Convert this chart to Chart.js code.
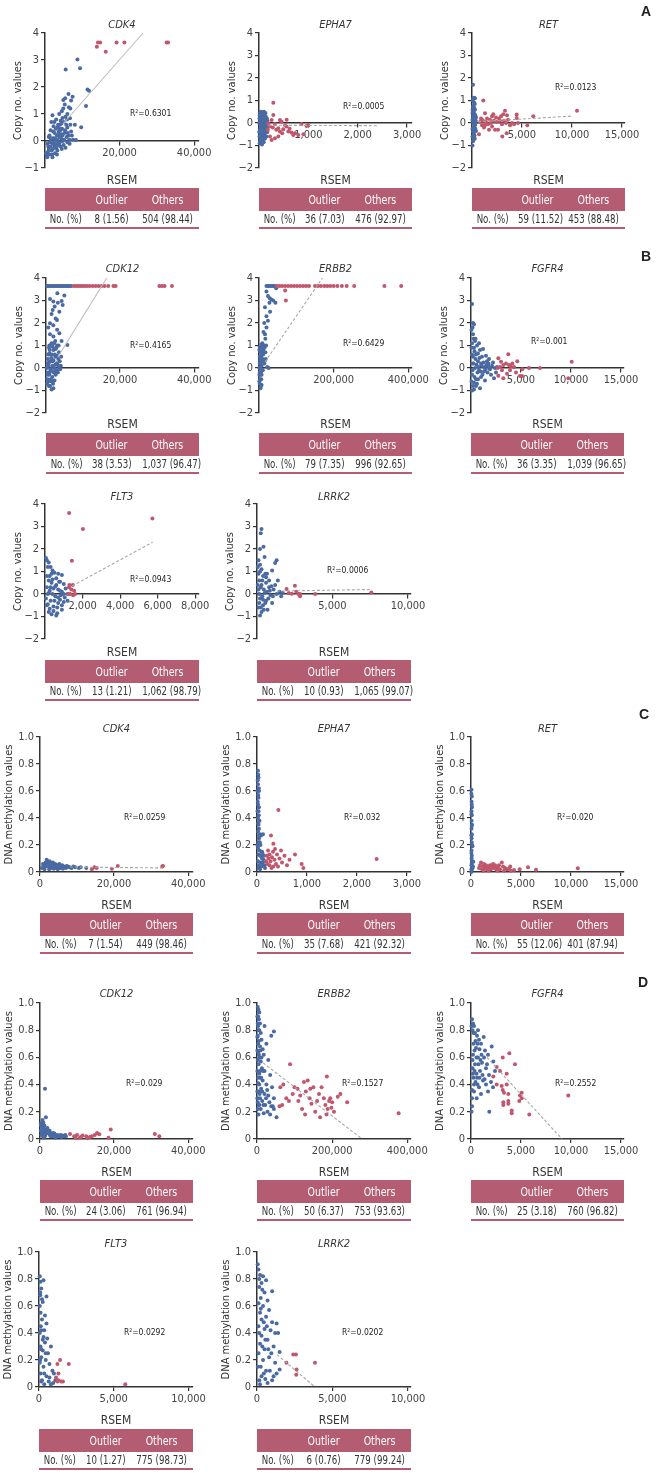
<!DOCTYPE html>
<html>
<head>
<meta charset="utf-8">
<script src="https://cdn.jsdelivr.net/npm/chart.js@4.4.1/dist/chart.umd.min.js"></script>
<style>
  body { margin: 0; background: #fff; }
  #page { position: relative; width: 665px; height: 1473px; overflow: hidden;
          font-family: "Liberation Sans Narrow", "Arial Narrow", "DejaVu Sans Condensed", "Roboto Condensed", sans-serif; color: #333; }
  canvas { position: absolute; }
  .gene { position: absolute; font-style: italic; font-size: 11px; transform: translate(-50%, -50%); white-space: nowrap; }
  .rsem { position: absolute; font-size: 12px; transform: translate(-50%, -50%); white-space: nowrap; }
  .r2 { position: absolute; font-size: 8.5px; transform: translateY(-50%); white-space: nowrap; color: #222; }
  .letter { position: absolute; font-family: "Liberation Sans", Arial, sans-serif; font-weight: bold; font-size: 14px; color: #222; }
  .tbl { position: absolute; }
  .tbl .hd, .tbl .rw { display: grid; grid-template-columns: 27% 32% 41%; align-items: center; text-align: center; white-space: nowrap; }
  .tbl .hd > span { transform: scaleX(0.84); }
  .tbl .rw > span { transform: scaleX(0.8); filter: grayscale(1); }
  .tbl .hd { background: #b35c72; color: #fff; height: 23px; font-size: 12.5px; }
  .tbl .rw { height: 16px; font-size: 12px; color: #333; border-bottom: 2px solid #b35c72; }
</style>
</head>
<body>
<div id="page"></div>
<script>
// ---- data ----
const cnTicks = [-2, -1, 0, 1, 2, 3, 4];
const cnTicksCdk4 = [-1, 0, 1, 2, 3, 4];
const meTicks = [0, 0.2, 0.4, 0.6, 0.8, 1.0];
const ticks40k = [0, 20000, 40000];
const ticks3k = [0, 1000, 2000, 3000];
const ticks15k = [0, 5000, 10000, 15000];
const ticks400k = [0, 200000, 400000];
const ticks8k = [0, 2000, 4000, 6000, 8000];
const ticks10k = [0, 5000, 10000];

// copy number, panel A
const cnCdk4Blue = [[500,-0.55],[800,-0.4],[1000,-0.3],[1200,-0.5],[1500,-0.2],[1800,-0.35],[2000,-0.1],[2200,0.1],[2500,-0.25],[2600,0.3],[2800,0.05],[3000,-0.15],[3200,0.2],[3400,0.5],[3500,-0.05],[3700,0.35],[3900,0.15],[4000,0.6],[4200,-0.2],[4400,0.25],[4600,0.45],[4800,0.0],[5000,0.7],[5200,0.3],[5500,0.9],[5800,0.15],[6000,0.5],[6300,0.2],[6600,-0.1],[7000,0.35],[7500,0.05],[8000,0.6],[3000,0.8],[3800,1.0],[4500,1.1],[4900,1.2],[5300,1.35],[6000,1.0],[6400,1.25],[4200,0.75],[2300,0.55],[1500,0.4],[1000,0.15],[700,-0.1],[2700,-0.45],[3300,-0.35],[4500,-0.3],[5500,-0.25],[1700,0.7],[2000,0.95],[5400,1.58],[6300,1.74],[7400,1.64],[4900,1.52],[6700,0.84],[9700,0.51],[8300,0.04],[11000,1.3],[11400,1.91],[11800,1.86],[5550,2.65],[8700,3.02],[9400,2.69],[7000,1.5],[6800,1.2],
  [300,-0.45],[600,-0.6],[900,-0.2],[1300,-0.05],[1600,0.05],[1900,-0.5],[2100,-0.3],[2400,-0.05],[2700,0.1],[2900,0.45],[3100,-0.25],[3300,0.05],[3600,0.25],[3800,-0.15],[4100,0.4],[4300,0.1],[4700,0.2],[5100,0.05],[5400,0.4],[5700,0.6],[6100,0.3],[6500,0.05],[3500,0.6],[2500,0.7],[4700,0.85],[3200,-0.5],[2000,-0.6],[1200,0.2],[2600,-0.15],[4000,-0.05],[5000,-0.15],[6000,-0.05],[3900,0.45],[4400,0.65],[2200,0.35],[1700,0.1],[5900,0.8],[7200,0.2],[6800,0.6]];
const cnCdk4Red = [[13900,3.49],[14200,3.65],[14800,3.65],[16300,3.31],[19200,3.65],[21300,3.65],[32600,3.65],[33000,3.65]];
const cnCdk4Trend = [[4800,0.63],[26300,4.0]];

const cnEpha7Blue = [[20,0.45],[40,0.5],[60,0.3],[80,0.42],[100,0.35],[120,0.2],[140,0.1],[30,0.1],[50,-0.1],[70,0.0],[90,-0.2],[110,-0.3],[130,-0.15],[150,-0.05],[20,-0.3],[40,-0.5],[60,-0.6],[80,-0.55],[100,-0.65],[120,-0.7],[20,-0.8],[40,-0.9],[60,-0.95],[10,-0.6],[10,0.2],[160,0.2],[170,-0.4],[30,-0.65],[90,0.15],[130,0.45],[50,0.25],[110,-0.5],[75,-0.8],[15,-0.9],[150,-0.6],[5,0.0],[5,-0.4],
  [25,0.0],[45,0.15],[65,-0.3],[85,0.05],[105,-0.1],[125,0.0],[145,-0.35],[35,-0.2],[55,-0.45],[95,-0.85],[115,-0.15],[135,0.3],[15,0.35],[70,0.25],[100,0.5],[160,-0.2],[170,0.1],[50,-0.75],[85,-0.4],[120,-0.45]];
const cnEpha7Red = [[290,0.9],[290,0.36],[256,0.13],[424,0.13],[189,-0.01],[222,-0.16],[323,-0.04],[391,-0.23],[458,0.06],[492,-0.28],[559,-0.16],[593,-0.38],[660,-0.42],[694,-0.53],[795,-0.53],[862,-0.04],[963,-0.13],[323,-0.68],[256,-0.75],[222,-0.6],[424,-0.38],[391,-0.6],[530,-0.1],[620,-0.25],[730,-0.45],[470,-0.45],[350,-0.3],[180,-0.3],[280,-0.2],[900,-0.5],[1000,-0.1],[560,0.15]];
const cnEpha7Trend = [[200,-0.1],[2400,-0.12]];

const cnRetBlue = [[100,1.7],[300,1.1],[200,1.12],[100,0.75],[200,0.7],[300,0.6],[150,0.5],[250,0.4],[100,0.3],[300,0.2],[200,0.1],[100,0.0],[300,-0.1],[150,-0.2],[250,-0.3],[100,-0.4],[200,-0.5],[50,-0.6],[150,-0.65],[250,-0.55],[50,-1.0],[400,-0.35],[400,0.25],[350,0.0],[50,0.45],[50,0.15],[50,-0.25],[120,-0.8],[220,0.9],[80,1.0],
  [120,1.1],[180,0.55],[280,0.85],[130,0.2],[230,-0.05],[330,0.35],[180,-0.35],[280,-0.7],[80,-0.8],[330,-0.25],[380,0.1],[130,-0.6],[60,0.6],[230,0.25]];
const cnRetRed = [[1130,1.0],[1300,0.43],[2130,0.39],[3130,0.39],[3300,0.55],[4470,0.38],[4470,0.22],[5530,-0.1],[6130,0.3],[10500,0.55],[3030,-0.6],[3470,-0.45],[800,0.05],[900,0.2],[1000,-0.1],[1100,0.1],[1200,-0.2],[1400,0.05],[1500,0.2],[1600,-0.05],[1700,-0.3],[1800,0.15],[1900,0.0],[2000,-0.15],[2200,0.1],[2300,-0.3],[2400,0.25],[2500,0.05],[2600,-0.3],[2700,0.2],[2800,0.1],[2900,0.3],[3000,-0.05],[3200,0.1],[3400,0.0],[3600,0.15],[3800,-0.1],[4000,0.0],[4200,-0.05],[700,-0.5],[1000,0.15],[1300,-0.1],[2000,0.3],[3500,0.35],[4600,0.0]];
const cnRetTrend = [[600,0.06],[10100,0.31]];

// copy number, panel B
const cnCdk12Blue = [[300,3.64],[700,3.64],[1100,3.64],[1500,3.64],[1900,3.64],[2300,3.64],[2700,3.64],[3100,3.64],[3500,3.64],[3900,3.64],[4300,3.64],[4700,3.64],[5100,3.64],[5500,3.64],[5900,3.64],[6300,3.64],[6800,3.64],[3060,3.32],[4950,3.22],[1080,3.07],[1980,2.96],[4230,2.98],[2340,2.73],[4500,2.8],[1800,2.58],[3600,2.5],[2970,2.13],[1080,1.99],[1980,1.9],[1080,1.5],[3600,1.55],[5770,1.02],[2500,1.2],[3000,1.0],[1500,1.1],[800,0.9],[2000,0.8],[3500,0.7],[1200,0.6],[2500,0.5],[500,0.4],[1800,0.3],[3000,0.2],[700,0.1],[2200,0.0],[3800,-0.05],[1000,-0.2],[2600,-0.3],[400,-0.5],[1500,-0.6],[800,-0.8],[2000,-0.9],[300,-0.7],[1200,0.3],[2800,0.9],[3300,0.4],[1700,-0.4],[600,-0.2],[2400,0.6],[4000,0.1],[900,0.65],[1400,-0.1],[2000,1.4],[2600,2.2],[1500,2.4],[3200,2.9],[600,1.8],[3000,1.7],[4200,1.2],
  [200,0.0],[500,0.2],[900,-0.3],[1300,-0.5],[1700,0.1],[2100,-0.2],[2500,0.15],[2900,-0.1],[3300,0.1],[3700,0.3],[4100,0.5],[700,-0.6],[1100,-0.8],[1500,-0.95],[1900,-0.7],[2300,-0.55],[600,0.6],[1000,0.8],[1400,0.45],[1800,0.95],[2200,1.1],[2600,0.85],[3000,0.55],[3400,1.0],[800,0.25],[1200,-0.05],[1600,0.6],[2000,0.35],[2400,-0.15],[2800,0.2],[3200,-0.2],[3600,0.0],[400,-0.3],[900,1.0]];
const cnCdk12Red = [[7500,3.64],[8100,3.64],[8700,3.64],[9300,3.64],[9900,3.64],[10500,3.64],[11100,3.64],[11800,3.64],[12600,3.64],[13400,3.64],[14200,3.64],[15000,3.64],[15800,3.64],[16800,3.64],[18200,3.64],[18800,3.64],[30600,3.64],[31300,3.64],[32000,3.64],[34000,3.64]];
const cnCdk12Trend = [[3200,0.49],[16400,4.0]];

const cnErbb2Blue = [[20000,3.64],[24000,3.64],[28000,3.64],[32000,3.64],[36000,3.64],[40000,3.64],[44000,3.64],[46000,3.55],[20000,3.4],[24000,3.2],[29000,3.1],[33000,3.05],[38000,3.0],[44000,2.9],[16000,2.7],[29700,2.5],[24000,2.1],[14000,2.0],[20000,1.8],[12000,1.6],[17000,1.3],[9000,1.1],[15000,0.9],[5000,0.8],[11000,0.6],[2000,0.5],[8000,0.3],[14000,0.2],[3000,0.0],[10000,-0.1],[1000,-0.3],[6000,-0.5],[2000,-0.7],[4000,-0.9],[12000,0.95],[7000,0.1],[18000,0.4],[22000,0.05],[26000,0.0],[5000,-0.2],[9000,0.7],[3000,0.35],[13000,1.0],[1000,-0.6],[7000,-0.75],[16000,1.5],[20000,2.3],[28000,2.9],
  [2000,0.9],[4000,0.7],[6000,0.55],[8000,0.9],[10000,0.4],[12000,0.3],[3000,0.2],[5000,0.1],[7000,-0.3],[9000,-0.1],[1000,0.0],[2000,-0.2],[3000,-0.5],[4000,-0.3],[5000,-0.8],[1000,0.8],[6000,1.05],[11000,0.8],[15000,0.3],[17000,0.7],[19000,1.0],[4000,0.45],[8000,0.6],[2000,0.2]];
const cnErbb2Red = [[48000,3.64],[55000,3.64],[62000,3.64],[70000,3.64],[78000,3.64],[86000,3.64],[94000,3.64],[102000,3.64],[110000,3.64],[118000,3.64],[126000,3.64],[134000,3.64],[150000,3.64],[158000,3.64],[166000,3.64],[175000,3.64],[183000,3.64],[191000,3.64],[200000,3.64],[210000,3.64],[222000,3.64],[235000,3.64],[255000,3.64],[336000,3.64],[381000,3.64],[70000,3.45],[72000,3.0]];
const cnErbb2Trend = [[16000,0.27],[170000,4.0]];

const cnFgfr4Blue = [[100,2.85],[200,2.0],[300,1.95],[150,1.8],[50,1.7],[250,1.3],[400,1.2],[100,1.1],[600,1.0],[1200,0.85],[900,0.8],[1500,0.55],[1800,0.4],[2200,0.25],[1700,0.1],[2600,0.05],[300,0.9],[500,0.6],[700,0.3],[200,0.5],[1000,0.2],[400,0.0],[800,-0.1],[1300,-0.15],[100,-0.3],[500,-0.5],[200,-0.8],[100,-1.0],[300,-0.95],[600,-0.7],[1000,-0.4],[1400,-0.55],[2000,-0.3],[2300,-0.45],[150,0.2],[700,0.65],[1100,0.5],[1900,-0.05],[50,-0.6],[900,-0.9],[1600,0.3],[2500,-0.2],
  [50,0.9],[150,-0.1],[250,0.2],[350,-0.4],[450,0.4],[550,0.15],[650,-0.2],[750,0.05],[850,0.45],[950,-0.15],[1050,0.1],[1150,-0.3],[1250,0.25],[1350,0.05],[1450,-0.05],[1550,0.15],[1650,-0.2],[1750,0.2],[1850,0.0],[2100,0.1],[2400,0.0],[300,-0.65],[500,-0.8],[700,-0.5],[200,1.5],[350,0.75],[100,0.6],[450,1.3],[800,1.1]];
const cnFgfr4Red = [[2730,0.43],[3000,0.28],[3730,0.61],[3230,0.13],[3800,0.13],[3970,0.08],[4130,0.2],[4630,0.3],[5130,-0.05],[5800,0.0],[6900,0.0],[10070,0.28],[2730,-0.34],[3230,-0.45],[3900,-0.1],[4900,-0.35],[9730,-0.45],[2900,0.05],[3500,0.2],[4300,0.05],[4500,-0.2],[3100,-0.1],[2650,0.0],[3600,-0.25],[5100,-0.35]];

const cnFlt3Blue = [[50,1.6],[100,1.5],[200,1.4],[150,1.2],[300,1.2],[400,1.05],[500,0.95],[700,0.9],[900,0.85],[250,0.8],[600,0.7],[800,0.55],[1000,0.45],[350,0.5],[100,0.3],[450,0.25],[700,0.2],[900,0.1],[1100,0.25],[1200,0.0],[150,0.0],[550,-0.1],[800,-0.25],[1000,-0.35],[300,-0.3],[100,-0.5],[450,-0.55],[650,-0.6],[900,-0.7],[200,-0.8],[350,-0.9],[600,-0.95],[1200,-0.3],[50,-0.2],[250,0.15],[700,-0.4],[400,0.65],
  [100,0.8],[200,0.6],[300,0.3],[400,0.0],[500,-0.3],[600,0.4],[700,-0.15],[800,0.15],[900,-0.5],[1000,0.0],[150,-0.45],[250,-0.65],[350,0.9],[450,-0.75],[550,0.35],[650,-0.85],[750,0.55],[850,-0.05],[1050,-0.15],[200,0.05]];
const cnFlt3Red = [[1286,3.6],[2020,2.89],[5720,3.36],[1430,1.48],[1300,0.4],[1480,0.4],[1340,0.0],[1600,0.0],[1250,0.0],[1400,0.2],[1550,0.15],[1500,-0.05],[1280,0.3]];
const cnFlt3Trend = [[1450,0.36],[5730,2.3]];

const cnLrrk2Blue = [[300,2.89],[250,2.7],[430,2.1],[200,2.0],[500,1.65],[100,1.5],[1200,1.38],[1300,1.5],[1000,1.05],[660,0.9],[1380,0.6],[50,1.2],[200,1.0],[400,0.8],[150,0.6],[600,0.5],[300,0.4],[800,0.3],[1100,0.2],[1500,0.1],[100,0.2],[500,0.05],[900,-0.05],[1300,0.0],[1700,0.05],[200,-0.2],[600,-0.3],[400,-0.5],[100,-0.6],[300,-0.8],[200,-0.95],[700,-0.7],[1000,-0.4],[800,0.6],[50,0.4],[1200,0.4],[1600,-0.1],
  [150,0.0],[250,0.3],[350,-0.1],[450,0.2],[550,-0.4],[650,0.1],[750,-0.2],[850,0.15],[950,0.35],[1050,-0.1],[150,-0.4],[250,-0.6],[350,0.6],[450,-0.7],[550,0.9],[100,0.9],[200,1.3],[300,1.1],[400,-0.25],[600,0.75]];
const cnLrrk2Red = [[1960,0.22],[2510,0.37],[2300,0.01],[2740,0.0],[2850,-0.1],[2850,0.0],[3850,0.0],[7570,0.07],[2100,0.05],[2600,0.1]];
const cnLrrk2Trend = [[1320,0.13],[7600,0.2]];

// DNA methylation, panel C
const meCdk4Blue = [[500,0.03],[1000,0.05],[1500,0.07],[1800,0.09],[2000,0.04],[2300,0.06],[2600,0.08],[2900,0.03],[3200,0.05],[3500,0.07],[3800,0.04],[4100,0.06],[4400,0.03],[4700,0.05],[5000,0.045],[5500,0.03],[6000,0.05],[6500,0.04],[7000,0.03],[7500,0.04],[8000,0.035],[8500,0.03],[9500,0.035],[10500,0.03],[12500,0.03],[1200,0.02],[2500,0.02],[3700,0.025],[4800,0.02],[6200,0.025],[1600,0.06],[2800,0.065],[3000,0.055],[5200,0.06],
  [800,0.06],[1300,0.04],[1700,0.05],[2200,0.07],[2700,0.05],[3300,0.06],[3900,0.05],[4500,0.04],[5800,0.04],[7200,0.045],[9000,0.04],[11000,0.035]];
const meCdk4Red = [[14000,0.02],[14700,0.035],[15300,0.03],[19400,0.025],[21000,0.045],[33000,0.04],[33200,0.045]];
const meCdk4Trend = [[8100,0.037],[33200,0.03]];

const meEpha7Blue = [[20,0.75],[30,0.7],[20,0.65],[40,0.6],[30,0.55],[20,0.5],[40,0.48],[30,0.45],[20,0.4],[50,0.38],[30,0.35],[40,0.32],[20,0.3],[60,0.28],[80,0.27],[120,0.28],[40,0.25],[30,0.22],[70,0.2],[20,0.18],[50,0.16],[90,0.15],[30,0.13],[60,0.12],[100,0.1],[130,0.09],[20,0.08],[70,0.07],[110,0.06],[40,0.05],[90,0.04],[150,0.05],[30,0.03],[60,0.02],[100,0.15],[140,0.12],[10,0.6],[10,0.45],[10,0.2],
  [25,0.72],[15,0.68],[35,0.62],[25,0.57],[15,0.52],[35,0.42],[25,0.36],[45,0.27],[55,0.22],[80,0.12],[110,0.14],[140,0.08],[160,0.03]];
const meEpha7Red = [[427,0.46],[280,0.27],[327,0.21],[760,0.13],[893,0.06],[927,0.03],[2393,0.096],[327,0.04],[200,0.12],[230,0.1],[250,0.13],[270,0.08],[300,0.11],[350,0.09],[400,0.13],[450,0.1],[500,0.07],[600,0.05],[250,0.05],[180,0.08],[380,0.06],[320,0.15],[220,0.16],[420,0.04],[550,0.12],[290,0.03],[210,0.06],[480,0.16],[360,0.17],[650,0.09]];

const meRetBlue = [[50,0.61],[80,0.56],[60,0.52],[100,0.48],[50,0.45],[80,0.42],[60,0.38],[100,0.35],[50,0.32],[80,0.28],[60,0.25],[100,0.2],[150,0.19],[50,0.16],[80,0.12],[60,0.1],[100,0.08],[230,0.076],[50,0.05],[150,0.03],[100,0.02],[200,0.04],[30,0.0],
  [40,0.58],[70,0.5],[40,0.43],[70,0.34],[40,0.27],[70,0.22],[40,0.14],[70,0.06],[120,0.04],[40,0.02]];
const meRetRed = [[800,0.03],[900,0.05],[1000,0.07],[1100,0.02],[1200,0.04],[1300,0.06],[1400,0.03],[1500,0.05],[1600,0.02],[1700,0.04],[1800,0.03],[1900,0.05],[2000,0.02],[2100,0.04],[2200,0.06],[2300,0.03],[2400,0.05],[2500,0.02],[2600,0.04],[2700,0.03],[2800,0.05],[2900,0.02],[3080,0.07],[3200,0.04],[3400,0.03],[3600,0.02],[3920,0.04],[4000,0.01],[4860,0.02],[5700,0.035],[6500,0.016],[10680,0.027],[1250,0.01],[1750,0.01],[2650,0.01],[3300,0.01],[3800,0.025],[4300,0.015]];

// DNA methylation, panel D
const meCdk12Blue = [[1350,0.37],[1600,0.16],[300,0.1],[600,0.08],[900,0.12],[1200,0.1],[1500,0.07],[1800,0.06],[2100,0.05],[2400,0.04],[2700,0.03],[3000,0.04],[3300,0.02],[3700,0.03],[4100,0.02],[4500,0.025],[5000,0.02],[5500,0.03],[6000,0.025],[6500,0.02],[7000,0.02],[500,0.04],[800,0.02],[1100,0.05],[1400,0.03],[2000,0.08],[2600,0.06],[3500,0.045],[200,0.06],[700,0.14],[1000,0.01],[4200,0.01],
  [400,0.03],[900,0.06],[1300,0.02],[1700,0.04],[2300,0.06],[2900,0.02],[3900,0.04],[4700,0.03],[5800,0.015],[6800,0.03],[200,0.11],[500,0.12],[1000,0.09]];
const meCdk12Red = [[8100,0.037],[9200,0.02],[10000,0.03],[10800,0.01],[11500,0.025],[12500,0.02],[13500,0.015],[14800,0.03],[15400,0.045],[16000,0.035],[18500,0.01],[19100,0.07],[31000,0.036],[32200,0.02],[9600,0.01],[11000,0.015],[12800,0.005],[14000,0.02]];

const meErbb2Blue = [[2000,0.97],[4000,0.95],[6000,0.93],[3000,0.9],[5000,0.88],[8000,0.85],[3000,0.83],[20000,0.83],[45000,0.79],[38000,0.76],[6000,0.8],[10000,0.78],[2000,0.76],[12000,0.73],[5000,0.72],[25000,0.7],[8000,0.68],[15000,0.66],[3000,0.64],[18000,0.62],[30000,0.58],[7000,0.6],[10000,0.57],[4000,0.55],[13000,0.52],[20000,0.5],[6000,0.48],[35000,0.47],[9000,0.45],[15000,0.43],[3000,0.41],[25000,0.4],[40000,0.38],[11000,0.37],[5000,0.35],[20000,0.33],[30000,0.32],[8000,0.3],[45000,0.3],[14000,0.28],[2000,0.27],[22000,0.25],[38000,0.24],[10000,0.22],[28000,0.2],[35000,0.18],[18000,0.19],[52000,0.16],[45000,0.22],[6000,0.25],[1000,0.5],[1000,0.65],[1000,0.35],[12000,0.6],
  [1000,0.9],[2000,0.85],[4000,0.8],[1000,0.75],[3000,0.7],[5000,0.62],[2000,0.58],[6000,0.4],[1000,0.3],[2000,0.22],[4000,0.18],[8000,0.5],[9000,0.65],[11000,0.45],[14000,0.35],[16000,0.5],[17000,0.25],[24000,0.3],[27000,0.36],[33000,0.27],[42000,0.24],[3000,0.45],[5000,0.25],[7000,0.33]];
const meErbb2Red = [[88000,0.55],[377000,0.19],[186000,0.46],[62000,0.38],[70000,0.4],[78000,0.3],[85000,0.28],[100000,0.38],[110000,0.28],[115000,0.32],[120000,0.22],[125000,0.42],[128000,0.18],[135000,0.43],[140000,0.3],[145000,0.26],[150000,0.38],[155000,0.2],[160000,0.28],[168000,0.16],[172000,0.38],[178000,0.3],[182000,0.25],[188000,0.22],[192000,0.28],[195000,0.3],[200000,0.27],[205000,0.2],[215000,0.31],[222000,0.33],[240000,0.27],[95000,0.33],[108000,0.37],[130000,0.35],[165000,0.33],[198000,0.23],[185000,0.18],[60000,0.24],[67000,0.25],[142000,0.37]];
const meErbb2Trend = [[16000,0.56],[280000,0.0]];

const meFgfr4Blue = [[100,0.88],[200,0.85],[300,0.83],[150,0.8],[400,0.78],[600,0.76],[1270,0.75],[800,0.73],[250,0.7],[1000,0.7],[2070,0.68],[500,0.67],[1400,0.65],[200,0.62],[700,0.6],[1700,0.62],[2230,0.57],[1100,0.56],[400,0.55],[1500,0.52],[900,0.5],[200,0.48],[1800,0.47],[600,0.45],[1200,0.43],[300,0.4],[2000,0.42],[800,0.38],[100,0.36],[570,0.3],[1830,0.2],[1000,0.33],[100,0.24],[50,0.2],[1600,0.55],[2400,0.5],[700,0.8],[1300,0.6],[150,0.58],[2200,0.38],[1700,0.35],
  [50,0.83],[250,0.78],[450,0.72],[650,0.7],[850,0.66],[1050,0.62],[350,0.65],[550,0.6],[750,0.55],[950,0.58],[150,0.52],[350,0.5],[550,0.48],[1150,0.47],[1350,0.44],[450,0.42],[650,0.4],[850,0.45],[250,0.45],[1500,0.4],[100,0.3],[300,0.35]];
const meFgfr4Red = [[3170,0.6],[3830,0.63],[4400,0.55],[2570,0.53],[2900,0.5],[3570,0.48],[2570,0.4],[3070,0.39],[3570,0.4],[3170,0.36],[3300,0.34],[3730,0.33],[3230,0.27],[3730,0.26],[4070,0.21],[4070,0.19],[4900,0.32],[5070,0.34],[4830,0.28],[5070,0.3],[5830,0.18],[9730,0.32],[3230,0.25],[2230,0.46],[3730,0.28]];
const meFgfr4Trend = [[1600,0.6],[9100,0.0]];

const meFlt3Blue = [[50,0.82],[100,0.78],[300,0.79],[150,0.73],[80,0.68],[500,0.67],[250,0.63],[50,0.6],[100,0.55],[400,0.53],[200,0.5],[500,0.47],[150,0.42],[50,0.4],[300,0.37],[550,0.36],[400,0.33],[800,0.3],[100,0.3],[250,0.27],[600,0.25],[150,0.22],[450,0.2],[50,0.18],[700,0.17],[300,0.15],[900,0.12],[100,0.1],[500,0.08],[200,0.05],[650,0.04],[950,0.03],[350,0.02],[1000,0.1],[1100,0.05],
  [80,0.7],[200,0.65],[120,0.45],[350,0.42],[250,0.35],[150,0.28],[450,0.25],[80,0.2],[350,0.1],[700,0.07],[150,0.04],[800,0.02]];
const meFlt3Red = [[1410,0.2],[1990,0.17],[1230,0.17],[1300,0.1],[1300,0.05],[1490,0.04],[1600,0.04],[1230,0.04],[5770,0.02],[1140,0.07]];

const meLrrk2Blue = [[50,0.91],[100,0.87],[200,0.83],[400,0.82],[600,0.79],[300,0.77],[1000,0.71],[150,0.74],[500,0.7],[250,0.66],[700,0.64],[100,0.62],[400,0.6],[800,0.57],[200,0.55],[600,0.52],[300,0.5],[1000,0.48],[1300,0.47],[100,0.45],[500,0.43],[900,0.42],[1200,0.4],[1400,0.4],[300,0.38],[700,0.35],[200,0.32],[1100,0.3],[500,0.28],[1500,0.26],[100,0.25],[800,0.22],[400,0.2],[1200,0.18],[1500,0.13],[600,0.12],[300,0.08],[1000,0.05],[200,0.02],[700,0.03],[1300,0.1],[50,0.15],
  [150,0.8],[350,0.72],[250,0.58],[450,0.48],[650,0.45],[150,0.4],[350,0.3],[550,0.35],[750,0.28],[950,0.25],[250,0.15],[450,0.1],[850,0.12],[1100,0.08],[550,0.06],[150,0.05]];
const meLrrk2Red = [[2400,0.24],[2580,0.24],[1950,0.18],[3840,0.18],[2620,0.13],[2600,0.09]];
const meLrrk2Trend = [[1320,0.24],[3840,0.0]];

// outlier table counts: [outlier, others]
const countsA = [['8 (1.56)', '504 (98.44)'], ['36 (7.03)', '476 (92.97)'], ['59 (11.52)', '453 (88.48)']];
const countsB = [['38 (3.53)', '1,037 (96.47)'], ['79 (7.35)', '996 (92.65)'], ['36 (3.35)', '1,039 (96.65)']];
const countsB2 = [['13 (1.21)', '1,062 (98.79)'], ['10 (0.93)', '1,065 (99.07)']];
const countsC = [['7 (1.54)', '449 (98.46)'], ['35 (7.68)', '421 (92.32)'], ['55 (12.06)', '401 (87.94)']];
const countsD = [['24 (3.06)', '761 (96.94)'], ['50 (6.37)', '753 (93.63)'], ['25 (3.18)', '760 (96.82)']];
const countsD2 = [['10 (1.27)', '775 (98.73)'], ['6 (0.76)', '779 (99.24)']];

const r2A = ['0.6301', '0.0005', '0.0123'];
const r2B = ['0.4165', '0.6429', '0.001'];
const r2B2 = ['0.0943', '0.0006'];
const r2C = ['0.0259', '0.032', '0.020'];
const r2D = ['0.029', '0.1527', '0.2552'];
const r2D2 = ['0.0292', '0.0202'];

// ---- styles / layout ----
const BLUE = '#4a6aa3';
const RED = '#c1566c';
const FONT = '"Liberation Sans Narrow", "Arial Narrow", "DejaVu Sans Condensed", "Roboto Condensed", sans-serif';
Chart.defaults.font.family = FONT;
Chart.defaults.color = '#444';

// rows: chart top / bottom, gene title y, RSEM y, table top
const rows = {
  A:  { y0: 33,   y1: 168,  title: 24,   rsem: 180,  tbl: 188 },
  B:  { y0: 278,  y1: 413,  title: 268,  rsem: 424,  tbl: 433 },
  B2: { y0: 504,  y1: 639,  title: 496,  rsem: 652,  tbl: 660 },
  C:  { y0: 737,  y1: 872,  title: 728,  rsem: 905,  tbl: 913 },
  D:  { y0: 1003, y1: 1139, title: 993,  rsem: 1172, tbl: 1180 },
  D2: { y0: 1252, y1: 1387, title: 1243, rsem: 1420, tbl: 1429 }
};

const panels = [
  { row: 'A', kind: 'cn', gene: 'CDK4', x0: 45, x1: 199, xMax: 41300, xt: ticks40k, yt: cnTicksCdk4, blue: cnCdk4Blue, red: cnCdk4Red, trend: cnCdk4Trend, solid: true, r2: r2A[0], r2x: 130, r2y: 113, n: countsA[0] },
  { row: 'A', kind: 'cn', gene: 'EPHA7', x0: 259, x1: 412, xMax: 3100, xt: ticks3k, yt: cnTicks, blue: cnEpha7Blue, red: cnEpha7Red, trend: cnEpha7Trend, r2: r2A[1], r2x: 343, r2y: 106, n: countsA[1] },
  { row: 'A', kind: 'cn', gene: 'RET', x0: 472, x1: 625, xMax: 15300, xt: ticks15k, yt: cnTicks, blue: cnRetBlue, red: cnRetRed, trend: cnRetTrend, r2: r2A[2], r2x: 555, r2y: 87, n: countsA[2] },
  { row: 'B', kind: 'cn', gene: 'CDK12', x0: 46, x1: 199, xMax: 41300, xt: ticks40k, yt: cnTicks, blue: cnCdk12Blue, red: cnCdk12Red, trend: cnCdk12Trend, solid: true, r2: r2B[0], r2x: 130, r2y: 345, n: countsB[0] },
  { row: 'B', kind: 'cn', gene: 'ERBB2', x0: 259, x1: 412, xMax: 410000, xt: ticks400k, yt: cnTicks, blue: cnErbb2Blue, red: cnErbb2Red, trend: cnErbb2Trend, r2: r2B[1], r2x: 343, r2y: 343, n: countsB[1] },
  { row: 'B', kind: 'cn', gene: 'FGFR4', x0: 471, x1: 624, xMax: 15300, xt: ticks15k, yt: cnTicks, blue: cnFgfr4Blue, red: cnFgfr4Red, trend: null, r2: r2B[2], r2x: 531, r2y: 341, n: countsB[2] },
  { row: 'B2', kind: 'cn', gene: 'FLT3', x0: 45, x1: 199, xMax: 8200, xt: ticks8k, yt: cnTicks, blue: cnFlt3Blue, red: cnFlt3Red, trend: cnFlt3Trend, r2: r2B2[0], r2x: 130, r2y: 579, n: countsB2[0] },
  { row: 'B2', kind: 'cn', gene: 'LRRK2', x0: 257, x1: 411, xMax: 10200, xt: ticks10k, yt: cnTicks, blue: cnLrrk2Blue, red: cnLrrk2Red, trend: cnLrrk2Trend, r2: r2B2[1], r2x: 327, r2y: 570, n: countsB2[1] },
  { row: 'C', kind: 'me', gene: 'CDK4', x0: 40, x1: 193, xMax: 41300, xt: ticks40k, yt: meTicks, blue: meCdk4Blue, red: meCdk4Red, trend: meCdk4Trend, r2: r2C[0], r2x: 124, r2y: 817, n: countsC[0] },
  { row: 'C', kind: 'me', gene: 'EPHA7', x0: 257, x1: 411, xMax: 3080, xt: ticks3k, yt: meTicks, blue: meEpha7Blue, red: meEpha7Red, trend: null, r2: r2C[1], r2x: 344, r2y: 817, n: countsC[1] },
  { row: 'C', kind: 'me', gene: 'RET', x0: 471, x1: 624, xMax: 15300, xt: ticks15k, yt: meTicks, blue: meRetBlue, red: meRetRed, trend: null, r2: r2C[2], r2x: 557, r2y: 817, n: countsC[2] },
  { row: 'D', kind: 'me', gene: 'CDK12', x0: 40, x1: 193, xMax: 41300, xt: ticks40k, yt: meTicks, blue: meCdk12Blue, red: meCdk12Red, trend: null, r2: r2D[0], r2x: 126, r2y: 1083, n: countsD[0] },
  { row: 'D', kind: 'me', gene: 'ERBB2', x0: 257, x1: 411, xMax: 410000, xt: ticks400k, yt: meTicks, blue: meErbb2Blue, red: meErbb2Red, trend: meErbb2Trend, r2: r2D[1], r2x: 342, r2y: 1083, n: countsD[1] },
  { row: 'D', kind: 'me', gene: 'FGFR4', x0: 471, x1: 624, xMax: 15300, xt: ticks15k, yt: meTicks, blue: meFgfr4Blue, red: meFgfr4Red, trend: meFgfr4Trend, r2: r2D[2], r2x: 555, r2y: 1083, n: countsD[2] },
  { row: 'D2', kind: 'me', gene: 'FLT3', x0: 39, x1: 193, xMax: 10300, xt: ticks10k, yt: meTicks, blue: meFlt3Blue, red: meFlt3Red, trend: null, r2: r2D2[0], r2x: 124, r2y: 1332, n: countsD2[0] },
  { row: 'D2', kind: 'me', gene: 'LRRK2', x0: 257, x1: 411, xMax: 10200, xt: ticks10k, yt: meTicks, blue: meLrrk2Blue, red: meLrrk2Red, trend: meLrrk2Trend, r2: r2D2[1], r2x: 342, r2y: 1332, n: countsD2[1] }
];

const letters = [['A', 641, 3], ['B', 641, 248], ['C', 639, 706], ['D', 638, 974]];

const page = document.getElementById('page');
const pts = arr => arr.map(p => ({ x: p[0], y: p[1] }));
const fmt = v => v.toLocaleString('en-US');

function addDiv(cls, html, left, top, width) {
  const d = document.createElement('div');
  d.className = cls;
  d.innerHTML = html;
  d.style.left = left + 'px';
  d.style.top = top + 'px';
  if (width) d.style.width = width + 'px';
  page.appendChild(d);
  return d;
}

panels.forEach(p => {
  const r = rows[p.row];
  const cn = p.kind === 'cn';
  const YW = cn ? 33 : 37, PT = 10, PR = 26, PB = 10, XH = 24;
  const cv = document.createElement('canvas');
  cv.width = (p.x1 - p.x0) + YW + PR;
  cv.height = (r.y1 - r.y0) + PT + (cn ? PB : XH);
  cv.style.left = (p.x0 - YW) + 'px';
  cv.style.top = (r.y0 - PT) + 'px';
  page.appendChild(cv);

  const datasets = [];
  if (p.trend) {
    datasets.push({ data: pts(p.trend), showLine: true, pointRadius: 0, borderWidth: 1.1,
      borderColor: p.solid ? '#bdbdbd' : '#a8a8a8', borderDash: p.solid ? [] : [3, 2], clip: false });
  }
  datasets.push({ data: pts(p.red), backgroundColor: RED, pointRadius: 2, borderWidth: 0, clip: false });
  datasets.push({ data: pts(p.blue), backgroundColor: BLUE, pointRadius: 2, borderWidth: 0, clip: false });

  new Chart(cv.getContext('2d'), {
    type: 'scatter',
    data: { datasets },
    options: {
      responsive: false,
      animation: false,
      devicePixelRatio: 1,
      events: [],
      layout: { padding: { left: 0, top: PT, right: PR, bottom: cn ? PB : 0 } },
      plugins: { legend: { display: false }, tooltip: { enabled: false } },
      scales: {
        x: {
          type: 'linear',
          position: cn ? { y: 0 } : 'bottom',
          min: 0, max: p.xMax,
          afterBuildTicks: s => { s.ticks = p.xt.map(v => ({ value: v })); },
          afterFit: s => { if (!cn) s.height = XH; },
          grid: { drawOnChartArea: false, drawTicks: true, tickLength: 4, color: '#333', lineWidth: 1.2 },
          border: { display: true, color: '#333', width: 1.5 },
          ticks: { autoSkip: false, maxRotation: 0, padding: 2, font: { size: 11 }, color: '#444',
                   callback: v => (cn && v === 0) ? '' : fmt(v) }
        },
        y: {
          type: 'linear',
          min: p.yt[0], max: p.yt[p.yt.length - 1],
          afterBuildTicks: s => { s.ticks = p.yt.map(v => ({ value: v })); },
          afterFit: s => { s.width = YW; },
          grid: { drawOnChartArea: false, drawTicks: true, tickLength: 4, color: '#333', lineWidth: 1.2 },
          border: { display: true, color: '#333', width: 1.5 },
          title: { display: true, text: cn ? 'Copy no. values' : 'DNA methylation values',
                   padding: 0, font: { size: 11 }, color: '#333' },
          ticks: { autoSkip: false, padding: 2, font: { size: 11 }, color: '#444',
                   callback: v => cn ? (v < 0 ? '\u2212' + (-v) : String(v)) : (v === 0 ? '0' : v.toFixed(1)) }
        }
      }
    }
  });

  const cx = (p.x0 + p.x1) / 2;
  addDiv('gene', p.gene, cx, r.title);
  addDiv('rsem', 'RSEM', cx, r.rsem);
  addDiv('r2', 'R<sup style="font-size:5px">2</sup>=' + p.r2, p.r2x, p.r2y);
  const t = addDiv('tbl', '', p.x0, r.tbl, p.x1 - p.x0);
  t.innerHTML = '<div class="hd"><span></span><span>Outlier</span><span>Others</span></div>' +
                '<div class="rw"><span>No. (%)</span><span>' + p.n[0] + '</span><span>' + p.n[1] + '</span></div>';
});

letters.forEach(l => addDiv('letter', l[0], l[1], l[2]));
</script>
</body>
</html>
